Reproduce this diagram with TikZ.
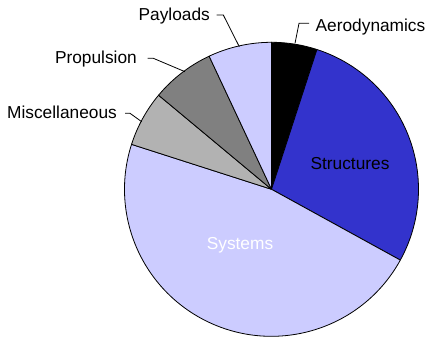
\documentclass[tikz,border=0pt]{standalone}
\usepackage{fontspec}
\setmainfont{Liberation Sans}
\usetikzlibrary{calc}

\definecolor{structBlue}{HTML}{3333CC}
\definecolor{sysLavender}{HTML}{CCCCFF}
\definecolor{miscGrey}{HTML}{B2B2B2}
\definecolor{propGrey}{HTML}{808080}

\begin{document}
\begin{tikzpicture}[x=1pt,y=1pt,
	slice/.style={draw=black, line width=0.8pt, line join=round},
	lbl/.style={inner sep=0pt, font=\fontsize{17.3}{20}\selectfont},
	leader/.style={draw=black, line width=0.8pt}]
	\useasboundingbox (0,0) rectangle (429,337);
	\coordinate (c) at (271.5,147.7);
	\def\rad{147}

	% slices, clockwise from the top
	\foreach \from/\to/\col in {90/72/black, 72/-28.8/structBlue, -28.8/-197.8/sysLavender,
		162.2/140.2/miscGrey, 140.2/115.1/propGrey, 115.1/90/sysLavender}{
		\draw[slice, fill=\col] (c) -- ++(\from:\rad) arc[start angle=\from, end angle=\to, radius=\rad] -- cycle;
	}

	% labels
	\node[lbl, anchor=base west] (aero) at (315.5,305.3) {Aerodynamics};
	\node[lbl, anchor=base east] (pay) at (210,316) {Payloads};
	\node[lbl, anchor=base east] (prop) at (137,273.7) {Propulsion};
	\node[lbl, anchor=base east] (misc) at (117,218.7) {Miscellaneous};
	\node[lbl, anchor=base] (struct) at (350,167.7) {Structures};
	\node[lbl, anchor=base, text=white] (sys) at (240,87) {Systems};

	% leader lines
	\coordinate (aeroTip) at (295,293.7);
	\coordinate (aeroKnee) at (299,313.7);
	\coordinate (payTip) at (239.3,290.3);
	\coordinate (payKnee) at (223.3,322);
	\coordinate (propTip) at (185,265.3);
	\coordinate (propKnee) at (153.3,278.7);
	\coordinate (miscTip) at (141.7,215.3);
	\coordinate (miscKnee) at (130,223.7);

	\draw[leader] (aeroTip) -- (aeroKnee) -- ($(aeroKnee -| aero.west)+(-6.5,0)$);
	\draw[leader] ($(payKnee -| pay.east)+(6.5,0)$) -- (payKnee) -- (payTip);
	\draw[leader] ($(propKnee -| prop.east)+(10.5,0)$) -- (propKnee) -- (propTip);
	\draw[leader] ($(miscKnee -| misc.east)+(8,0)$) -- (miscKnee) -- (miscTip);
\end{tikzpicture}
\end{document}
